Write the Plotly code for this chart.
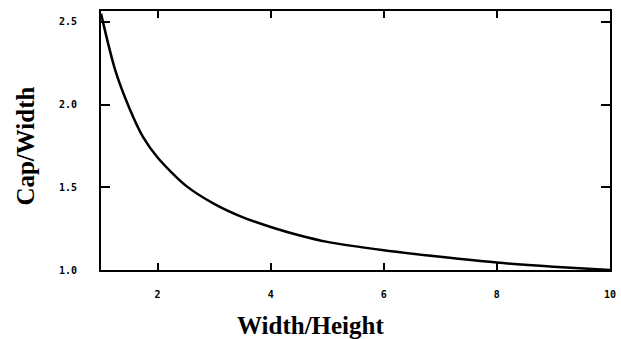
import plotly.graph_objects as go

ratio = [1, 1.25, 1.5, 1.75, 2, 2.5, 3, 3.5, 4, 4.5, 5, 6, 7, 8, 9, 10]
cap_width = [2.55, 2.21, 1.98, 1.80, 1.68, 1.51, 1.40, 1.32, 1.26, 1.21, 1.17, 1.12, 1.08, 1.045, 1.02, 1.0]
x_ticks = [2, 4, 6, 8, 10]
y_ticks = [1.0, 1.5, 2.0, 2.5]

fig = go.Figure()
fig.add_trace(go.Scatter(x=ratio, y=cap_width, mode="lines",
                         line=dict(color="black", width=2.5, shape="spline", smoothing=0.8),
                         showlegend=False))

tickfont = dict(family="DejaVu Sans Mono", size=10, color="black", weight="bold")
fig.update_xaxes(range=[1, 10], tickvals=x_ticks, ticktext=[str(v) for v in x_ticks],
                 ticks="inside", ticklen=7, tickwidth=2, tickcolor="black",
                 showline=True, linecolor="black", linewidth=2, mirror="ticks",
                 showgrid=False, zeroline=False, tickfont=tickfont, ticklabelstandoff=14,
                 ticklabeloverflow="allow")
fig.update_yaxes(range=[1.0, 2.566], tickvals=y_ticks, ticktext=["%.1f" % v for v in y_ticks],
                 ticks="inside", ticklen=9, tickwidth=2, tickcolor="black",
                 showline=True, linecolor="black", linewidth=2, mirror="ticks",
                 showgrid=False, zeroline=False, tickfont=tickfont, ticklabelstandoff=20,
                 ticklabeloverflow="allow")

titlefont = dict(family="Liberation Serif", size=25, color="black", weight="bold")
fig.add_annotation(text="Width/Height", xref="paper", yref="paper", x=0.411, y=0,
                   xanchor="center", yanchor="top", yshift=-40, showarrow=False, font=titlefont)
fig.add_annotation(text="Cap/Width", xref="paper", yref="paper", x=-0.149, y=0.477,
                   xanchor="center", yanchor="middle", textangle=-90, showarrow=False, font=titlefont)

fig.update_layout(width=621, height=339, margin=dict(l=101, r=5, t=11, b=69),
                  plot_bgcolor="white", paper_bgcolor="white")
fig.write_html("out.html", config={"displayModeBar": False},
               post_script="document.body.style.margin='0px';document.body.style.overflow='hidden';")
